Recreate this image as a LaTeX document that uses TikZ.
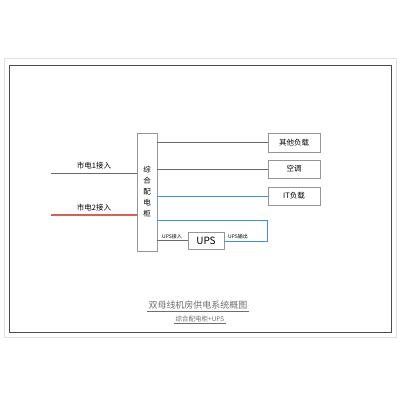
\documentclass[tikz,border=0pt]{standalone}
\usepackage{fontspec}
\setmainfont{Noto Sans CJK SC}
\usetikzlibrary{positioning}
\definecolor{lgrey}{RGB}{105,105,105}
\definecolor{bgrey}{RGB}{150,150,150}
\definecolor{lblue}{RGB}{60,145,230}
\definecolor{wireredc}{RGB}{215,95,85}
\definecolor{tgrey}{RGB}{110,110,110}
\tikzset{
  boxA/.style={draw=bgrey, line width=0.6pt, inner sep=0pt, font=\fontsize{7.5}{8}\selectfont},
  wire/.style={line width=0.9pt, draw=lgrey},
  bwire/.style={line width=0.9pt, draw=lblue},
  rwire/.style={line width=1.2pt, draw=wireredc},
  lbl/.style={font=\fontsize{7.5}{8}\selectfont, inner sep=0pt},
  tiny/.style={font=\fontsize{5}{5}\selectfont, inner sep=0pt},
}
\begin{document}
\begin{tikzpicture}[x=1pt,y=-1pt]
\useasboundingbox (0,0) rectangle (400,400);
% frames
\draw[draw=black!12, line width=0.8pt] (4,58) rectangle (396,337);
\draw[draw=black!70, line width=0.9pt] (9,65) rectangle (391,332);
% cabinet
\node[boxA, minimum width=20pt, minimum height=118pt] (cab) at (147,192) {};
\node[lbl, align=center] (cabt) at (147,192) {综\\[3pt]合\\[3pt]配\\[3pt]电\\[3pt]柜};
% loads
\node[boxA, minimum width=52pt, minimum height=19pt] (l1) at (294,142.5) {其他负载};
\node[boxA, minimum width=52pt, minimum height=18pt] (l2) at (294,169) {空调};
\node[boxA, minimum width=52pt, minimum height=18pt] (l3) at (294,196) {IT负载};
% UPS
\node[boxA, minimum width=36pt, minimum height=17pt, font=\fontsize{10}{10}\selectfont] (ups) at (206,240.5) {UPS};
% inputs
\coordinate (in1) at (51,173);
\coordinate (in2) at (51,215);
\draw[wire] (in1) -- (in1 -| cab.west);
\draw[rwire] (in2) -- (in2 -| cab.west);
\node[lbl] (t1) at (94,166) {市电1接入};
\node[lbl] (t2) at (94,207.5) {市电2接入};
% outputs
\draw[wire] (l1.west -| cab.east) -- (l1.west);
\draw[wire] (l2.west -| cab.east) -- (l2.west);
\draw[bwire] (l3.west -| cab.east) -- (l3.west);
\coordinate (c1) at (267,220);
\coordinate (c2) at (267,241);
\draw[bwire] (c1 -| cab.east) -- (c1) -- (c2) -- (c2 -| ups.east);
\draw[wire] (ups.west -| cab.east) -- (ups.west);
\node[tiny] (ui) at (172,237) {UPS接入};
\node[tiny] (uo) at (238,237) {UPS输出};
% title
\node[font=\fontsize{9}{9}\selectfont, text=tgrey, inner sep=1pt] (title) at (198,305.5) {双母线机房供电系统概图};
\draw[tgrey, line width=0.4pt] (title.south west) -- (title.south east);
\node[font=\fontsize{6.5}{7}\selectfont, text=tgrey, inner sep=1pt] (sub) at (200,319) {综合配电柜+UPS};
\draw[tgrey, line width=0.4pt] (sub.south west) -- (sub.south east);
\end{tikzpicture}
\end{document}
